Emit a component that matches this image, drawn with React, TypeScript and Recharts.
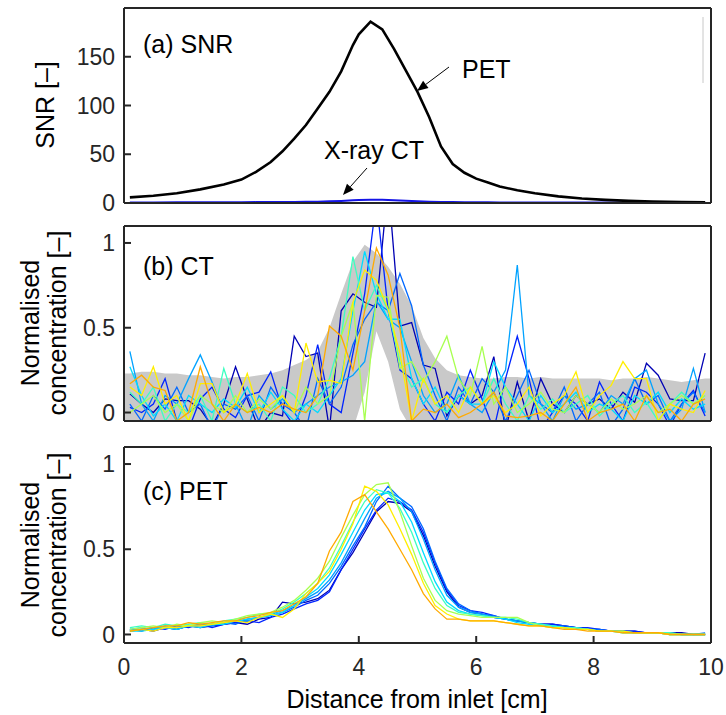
import React from "react";
import { ComposedChart, LineChart, Line, Area, XAxis, YAxis } from "recharts";

// ---- data ----
const X_TICKS = [0, 2, 4, 6, 8, 10];
const SNR_TICKS = [0, 50, 100, 150];
const NORM_TICKS = [0, 0.5, 1];

// (a) SNR
const SNR_X = [0.1, 0.5, 0.9, 1.3, 1.7, 2.0, 2.25, 2.5, 2.7, 2.9, 3.1, 3.3, 3.5, 3.7, 3.9, 4.0, 4.2, 4.4, 4.6, 4.8, 5.0, 5.2, 5.4, 5.6, 5.8, 6.0, 6.2, 6.4, 6.7, 7.0, 7.4, 7.8, 8.2, 8.6, 9.0, 9.5, 9.9];
const SNR_PET = [5.8, 7.5, 10, 14, 19, 24, 32, 42, 53, 66, 80, 97, 114, 135, 162, 173, 186, 178, 158, 136, 114, 88, 58, 40, 31, 25, 21, 17, 13, 10, 6.8, 4.6, 3.2, 2.2, 1.5, 1.0, 0.7];
const SNR_CT = [0.6, 0.6, 0.7, 0.7, 0.8, 0.8, 0.9, 0.9, 1.0, 1.1, 1.2, 1.4, 1.7, 2.1, 2.7, 3.0, 3.4, 3.3, 2.9, 2.4, 1.9, 1.4, 1.1, 0.9, 0.8, 0.7, 0.7, 0.6, 0.6, 0.6, 0.5, 0.5, 0.5, 0.5, 0.4, 0.4, 0.4];

// (b), (c) sample positions [cm]
const X_GRID = [0.1, 0.3, 0.5, 0.7, 0.9, 1.1, 1.3, 1.5, 1.7, 1.9, 2.1, 2.3, 2.5, 2.7, 2.9, 3.1, 3.3, 3.5, 3.7, 3.9, 4.1, 4.3, 4.5, 4.7, 4.9, 5.1, 5.3, 5.5, 5.7, 5.9, 6.1, 6.3, 6.5, 6.7, 6.9, 7.1, 7.3, 7.5, 7.7, 7.9, 8.1, 8.3, 8.5, 8.7, 8.9, 9.1, 9.3, 9.5, 9.7, 9.9];

// grey envelope in (b)
const BAND_HI = [0.23, 0.24, 0.24, 0.23, 0.23, 0.22, 0.22, 0.21, 0.2, 0.21, 0.21, 0.22, 0.23, 0.25, 0.28, 0.31, 0.36, 0.5, 0.7, 0.89, 0.99, 0.94, 0.86, 0.76, 0.63, 0.44, 0.32, 0.25, 0.22, 0.21, 0.2, 0.2, 0.21, 0.21, 0.2, 0.21, 0.2, 0.2, 0.2, 0.2, 0.2, 0.19, 0.2, 0.2, 0.21, 0.2, 0.19, 0.18, 0.19, 0.2];
const BAND_LO = [-0.1, -0.1, -0.1, -0.1, -0.1, -0.1, -0.1, -0.1, -0.1, -0.1, -0.1, -0.1, -0.1, -0.1, -0.1, -0.1, -0.1, -0.1, -0.1, -0.1, 0.12, 0.48, 0.3, 0.02, -0.1, -0.1, -0.1, -0.1, -0.1, -0.1, -0.1, -0.1, -0.1, -0.1, -0.1, -0.1, -0.1, -0.1, -0.1, -0.1, -0.1, -0.1, -0.1, -0.1, -0.1, -0.1, -0.1, -0.1, -0.1, -0.1];

const CT_1 = [0.11, 0.05, 0.0, 0.08, 0.07, 0.07, 0.02, -0.08, 0.05, 0.27, 0.08, -0.1, 0.0, -0.02, 0.45, 0.33, 0.35, -0.1, 0.6, 0.7, 0.65, 0.62, 1.35, 0.51, 0.53, 0.28, 0.26, -0.02, 0.1, 0.05, 0.1, 0.33, -0.1, 0.18, -0.05, 0.2, 0.05, 0.0, 0.1, 0.05, 0.08, 0.02, 0.12, 0.06, 0.29, 0.22, 0.08, 0.07, 0.07, 0.35];
const CT_2 = [0.03, 0.0, 0.05, 0.2, -0.05, -0.1, 0.08, 0.15, 0.02, -0.03, 0.1, 0.12, 0.24, 0.02, -0.08, 0.1, 0.4, 0.05, 0.0, 0.35, 0.7, 1.25, 0.6, 0.25, 0.2, 0.05, -0.05, 0.12, 0.05, 0.25, 0.08, -0.1, 0.2, 0.45, 0.2, -0.1, 0.0, 0.1, 0.05, -0.05, 0.18, 0.05, -0.05, 0.15, 0.12, 0.05, -0.08, 0.05, 0.13, -0.02];
const CT_3 = [0.05, -0.05, 0.1, 0.02, 0.15, 0.0, 0.05, -0.1, 0.05, 0.02, 0.1, -0.05, 0.15, 0.05, 0.0, -0.1, 0.2, 0.05, 0.15, 0.4, 0.55, 0.65, 0.6, 0.82, 0.63, 0.28, 0.1, -0.05, 0.15, 0.05, 0.2, 0.12, -0.05, 0.1, 0.25, 0.05, 0.0, 0.15, -0.05, 0.05, 0.12, -0.08, 0.02, 0.2, 0.05, 0.1, -0.05, 0.05, 0.12, 0.0];
const CT_4 = [0.36, 0.05, -0.05, 0.1, 0.05, 0.2, 0.34, 0.18, 0.0, 0.05, -0.1, 0.1, 0.02, 0.08, 0.0, 0.05, 0.1, 0.15, 0.18, 0.22, 0.3, 0.66, 0.55, 0.5, 0.3, 0.1, 0.0, 0.05, 0.22, 0.05, 0.0, 0.12, 0.25, 0.87, 0.1, 0.05, -0.05, 0.1, 0.02, 0.05, 0.0, 0.1, 0.05, 0.2, 0.25, 0.05, -0.05, 0.02, 0.26, 0.0];
const CT_5 = [0.27, 0.1, -0.02, 0.05, -0.05, 0.1, 0.05, 0.0, 0.08, 0.03, 0.15, 0.0, 0.12, 0.02, -0.05, 0.05, 0.0, 0.1, 0.2, 0.6, 0.95, 0.7, 0.55, 0.55, 0.2, 0.05, 0.15, 0.0, 0.1, 0.05, 0.05, 0.3, 0.15, 0.05, -0.05, 0.1, 0.0, 0.05, 0.12, 0.0, 0.05, 0.02, -0.05, 0.1, 0.05, 0.12, 0.0, 0.08, 0.02, 0.05];
const CT_6 = [0.12, 0.05, 0.15, -0.05, 0.05, 0.0, 0.1, -0.05, 0.26, 0.05, 0.0, 0.05, -0.05, 0.15, 0.1, 0.0, 0.05, 0.2, 0.45, 0.92, 0.6, 0.75, 0.6, 0.3, 0.15, 0.2, 0.05, 0.0, 0.1, 0.15, 0.05, 0.2, 0.05, -0.05, 0.1, 0.02, 0.08, 0.0, 0.05, 0.1, -0.02, 0.05, 0.1, 0.0, 0.06, -0.05, 0.05, 0.12, 0.05, 0.1];
const CT_7 = [0.0, 0.05, 0.1, 0.0, 0.05, -0.05, 0.1, 0.05, 0.0, 0.1, 0.0, 0.08, 0.02, 0.1, 0.0, 0.15, 0.05, 0.1, 0.45, 0.65, -0.05, 0.69, 0.68, 0.26, 0.3, 0.18, 0.3, 0.45, 0.2, 0.1, 0.39, 0.05, 0.15, 0.0, 0.05, 0.12, 0.02, 0.0, 0.1, 0.05, 0.0, 0.08, 0.02, 0.05, 0.1, 0.0, 0.05, 0.1, 0.05, 0.1];
const CT_8 = [0.15, 0.1, 0.27, 0.05, 0.1, -0.05, 0.17, 0.17, 0.0, 0.05, 0.23, 0.0, 0.05, 0.1, 0.0, 0.41, 0.18, 0.19, 0.17, 0.65, 0.84, 0.78, 0.61, 0.35, -0.05, 0.2, 0.05, 0.1, 0.0, 0.15, 0.05, 0.1, 0.0, 0.05, 0.15, -0.02, 0.05, 0.1, 0.24, 0.0, 0.1, 0.16, 0.3, 0.2, 0.2, -0.05, 0.05, 0.02, 0.0, 0.13];
const CT_9 = [0.17, 0.22, 0.15, 0.13, -0.05, 0.0, 0.27, 0.05, -0.05, 0.05, 0.0, 0.03, 0.0, 0.05, 0.02, 0.0, 0.1, 0.51, 0.45, 0.25, 0.6, 0.97, 0.81, 0.5, -0.05, 0.02, 0.0, 0.05, -0.03, 0.0, 0.05, 0.12, -0.02, -0.03, -0.02, 0.0, -0.05, 0.05, 0.15, -0.05, 0.0, 0.02, 0.05, -0.05, 0.1, 0.0, 0.02, -0.05, 0.05, 0.08];

const PET_1 = [0.02, 0.03, 0.02, 0.04, 0.03, 0.05, 0.04, 0.05, 0.06, 0.07, 0.06, 0.09, 0.1, 0.19, 0.18, 0.19, 0.21, 0.26, 0.38, 0.48, 0.6, 0.72, 0.78, 0.77, 0.72, 0.58, 0.4, 0.25, 0.16, 0.13, 0.12, 0.1, 0.09, 0.08, 0.07, 0.06, 0.06, 0.05, 0.04, 0.03, 0.03, 0.02, 0.02, 0.02, 0.01, 0.01, 0.01, 0.01, 0.0, 0.0];
const PET_2 = [0.03, 0.02, 0.04, 0.03, 0.05, 0.04, 0.06, 0.04, 0.06, 0.07, 0.08, 0.07, 0.1, 0.12, 0.15, 0.18, 0.2, 0.25, 0.38, 0.5, 0.62, 0.73, 0.8, 0.78, 0.73, 0.6, 0.42, 0.26, 0.17, 0.14, 0.13, 0.11, 0.09, 0.08, 0.07, 0.06, 0.06, 0.05, 0.04, 0.04, 0.03, 0.02, 0.02, 0.02, 0.01, 0.01, 0.01, 0.0, 0.0, 0.0];
const PET_3 = [0.02, 0.03, 0.04, 0.04, 0.03, 0.05, 0.05, 0.06, 0.07, 0.06, 0.09, 0.1, 0.11, 0.13, 0.16, 0.2, 0.23, 0.3, 0.4, 0.52, 0.63, 0.78, 0.87, 0.8, 0.75, 0.62, 0.43, 0.27, 0.18, 0.14, 0.12, 0.11, 0.09, 0.08, 0.07, 0.06, 0.05, 0.05, 0.04, 0.03, 0.03, 0.02, 0.02, 0.01, 0.01, 0.01, 0.01, 0.0, 0.0, 0.01];
const PET_4 = [0.03, 0.04, 0.03, 0.05, 0.04, 0.05, 0.06, 0.05, 0.07, 0.08, 0.08, 0.1, 0.12, 0.14, 0.17, 0.21, 0.25, 0.32, 0.42, 0.55, 0.68, 0.8, 0.84, 0.8, 0.72, 0.56, 0.38, 0.23, 0.16, 0.13, 0.12, 0.1, 0.09, 0.08, 0.07, 0.06, 0.05, 0.04, 0.04, 0.03, 0.02, 0.02, 0.02, 0.01, 0.01, 0.01, 0.0, 0.0, 0.0, 0.0];
const PET_5 = [0.02, 0.02, 0.03, 0.04, 0.03, 0.05, 0.04, 0.06, 0.06, 0.08, 0.09, 0.1, 0.11, 0.13, 0.17, 0.22, 0.27, 0.35, 0.47, 0.6, 0.73, 0.82, 0.83, 0.78, 0.66, 0.48, 0.31, 0.19, 0.14, 0.12, 0.11, 0.1, 0.09, 0.07, 0.06, 0.05, 0.05, 0.04, 0.03, 0.03, 0.02, 0.02, 0.01, 0.01, 0.01, 0.01, 0.0, 0.0, 0.0, 0.0];
const PET_6 = [0.04, 0.05, 0.04, 0.06, 0.05, 0.06, 0.07, 0.06, 0.08, 0.09, 0.1, 0.12, 0.12, 0.15, 0.19, 0.24, 0.3, 0.39, 0.52, 0.66, 0.78, 0.85, 0.83, 0.74, 0.6, 0.42, 0.27, 0.17, 0.13, 0.12, 0.11, 0.1, 0.1, 0.09, 0.07, 0.06, 0.05, 0.04, 0.04, 0.03, 0.02, 0.02, 0.02, 0.01, 0.01, 0.01, 0.01, 0.0, 0.0, 0.0];
const PET_7 = [0.03, 0.04, 0.05, 0.04, 0.06, 0.05, 0.07, 0.08, 0.07, 0.09, 0.11, 0.12, 0.13, 0.16, 0.2, 0.26, 0.33, 0.43, 0.57, 0.7, 0.82, 0.88, 0.89, 0.72, 0.52, 0.33, 0.2, 0.14, 0.12, 0.11, 0.1, 0.1, 0.1, 0.1, 0.07, 0.05, 0.04, 0.04, 0.03, 0.03, 0.02, 0.02, 0.01, 0.01, 0.01, 0.01, 0.0, 0.0, 0.0, 0.0];
const PET_8 = [0.02, 0.03, 0.02, 0.04, 0.04, 0.05, 0.05, 0.06, 0.07, 0.08, 0.07, 0.1, 0.12, 0.1, 0.15, 0.24, 0.3, 0.37, 0.5, 0.65, 0.87, 0.84, 0.76, 0.62, 0.47, 0.3, 0.17, 0.12, 0.09, 0.08, 0.08, 0.08, 0.07, 0.06, 0.05, 0.05, 0.04, 0.04, 0.03, 0.03, 0.02, 0.02, 0.02, 0.01, 0.01, 0.01, 0.0, 0.0, 0.0, 0.0];
const PET_9 = [0.02, 0.03, 0.04, 0.05, 0.05, 0.07, 0.06, 0.07, 0.08, 0.08, 0.1, 0.11, 0.13, 0.14, 0.18, 0.22, 0.3, 0.49, 0.6, 0.78, 0.82, 0.72, 0.62, 0.5, 0.38, 0.24, 0.15, 0.09, 0.09, 0.08, 0.08, 0.08, 0.07, 0.06, 0.05, 0.05, 0.04, 0.03, 0.03, 0.02, 0.02, 0.02, 0.01, 0.01, 0.01, 0.01, 0.0, 0.0, 0.0, 0.0];

const LINE_COLORS = ["#0000b4", "#0024ff", "#0068ff", "#00a2ff", "#00dcff", "#3cffc0", "#a8ff50", "#ffee00", "#ffaa00"];
const CT_SERIES = [CT_1, CT_2, CT_3, CT_4, CT_5, CT_6, CT_7, CT_8, CT_9];
const PET_SERIES = [PET_1, PET_2, PET_3, PET_4, PET_5, PET_6, PET_7, PET_8, PET_9];

// ---- build rows for recharts ----
const snrData = SNR_X.map((x, i) => ({ x, pet: SNR_PET[i], ct: SNR_CT[i] }));

const ctData = [
  { x: 0, band: [BAND_LO[0], BAND_HI[0]] },
  ...X_GRID.map((x, i) => {
    const row: any = { x, band: [BAND_LO[i], BAND_HI[i]] };
    CT_SERIES.forEach((s, k) => (row["s" + k] = s[i]));
    return row;
  }),
  { x: 10, band: [BAND_LO[BAND_LO.length - 1], BAND_HI[BAND_HI.length - 1]] },
];

const petData = X_GRID.map((x, i) => {
  const row: any = { x };
  PET_SERIES.forEach((s, k) => (row["s" + k] = s[i]));
  return row;
});

// ---- styling ----
const INK = "#262626";
const FONT = "'Liberation Sans', Arial, Helvetica, sans-serif";
const frameLine = { stroke: INK, strokeWidth: 2 };
const tickFont = { fill: INK, fontSize: 23, fontFamily: FONT };

// axis boxes: bottom 30 tall, top 10 tall, left 60 wide, right 10 wide
const AX_B = 30;
const AX_T = 10;
const AX_L = 60;
const AX_R = 10;

// box with inward ticks on all four sides (matlab style)
function frameAxes(yDomain: [number, number], yTicks: number[], xLabels: boolean) {
  return [
    <XAxis key="xb" type="number" dataKey="x" domain={[0, 10]} ticks={X_TICKS} interval={0}
      allowDataOverflow height={AX_B} axisLine={frameLine} tickLine={frameLine}
      tickSize={-7} tickMargin={23} tick={xLabels ? tickFont : false} />,
    <XAxis key="xt" xAxisId="t" orientation="top" type="number" dataKey="x" domain={[0, 10]}
      ticks={X_TICKS} interval={0} allowDataOverflow height={AX_T} axisLine={frameLine}
      tickLine={frameLine} tickSize={-7} tick={false} />,
    <YAxis key="yl" type="number" domain={yDomain} ticks={yTicks} interval={0} allowDataOverflow
      width={AX_L} axisLine={frameLine} tickLine={frameLine} tickSize={-7} tickMargin={16} tick={tickFont} />,
    <YAxis key="yr" yAxisId="r" orientation="right" type="number" domain={yDomain} ticks={yTicks}
      interval={0} allowDataOverflow width={AX_R} axisLine={frameLine} tickLine={frameLine}
      tickSize={-7} tick={false} />,
  ];
}

// plot box in page pixels -> chart margins
const PLOT_L = 124;
const PLOT_R = 711;
function margins(chartTop: number, chartH: number, plotTop: number, plotBottom: number) {
  return {
    top: plotTop - chartTop - AX_T,
    bottom: chartTop + chartH - plotBottom - AX_B,
    left: PLOT_L - AX_L,
    right: 726 - PLOT_R - AX_R,
  };
}

function Arrow({ x1, y1, x2, y2 }: { x1: number; y1: number; x2: number; y2: number }) {
  const dx = x2 - x1;
  const dy = y2 - y1;
  const len = Math.sqrt(dx * dx + dy * dy);
  const ux = dx / len;
  const uy = dy / len;
  const head = 11;
  const half = 4.5;
  const bx = x2 - ux * head;
  const by = y2 - uy * head;
  const pts = `${x2},${y2} ${bx - uy * half},${by + ux * half} ${bx + uy * half},${by - ux * half}`;
  return (
    <g>
      <line x1={x1} y1={y1} x2={bx} y2={by} stroke="#000" strokeWidth={1} />
      <polygon points={pts} fill="#000" />
    </g>
  );
}

const textStyle = { fontFamily: FONT, fontSize: 25, fill: "#000" };

export default function App() {
  return (
    <div style={{ position: "absolute", left: 0, top: 0, width: 726, height: 715, background: "#fff" }}>
      {/* (a) SNR */}
      <div style={{ position: "absolute", left: 0, top: 0 }}>
        <LineChart width={726} height={215} data={snrData} margin={margins(0, 215, 8, 203)}>
          {frameAxes([0, 200], SNR_TICKS, false)}
          <Line type="linear" dataKey="ct" stroke="#1414e6" strokeWidth={2} dot={false} activeDot={false} isAnimationActive={false} />
          <Line type="linear" dataKey="pet" stroke="#000" strokeWidth={2.6} dot={false} activeDot={false} isAnimationActive={false} />
        </LineChart>
      </div>

      {/* (b) CT */}
      <div style={{ position: "absolute", left: 0, top: 215 }}>
        <ComposedChart width={726} height={215} data={ctData} margin={margins(215, 215, 226, 421)}>
          {frameAxes([-0.05, 1.1], NORM_TICKS, false)}
          <Area type="linear" dataKey="band" stroke="none" fill="#c9c9c9" fillOpacity={1} dot={false} activeDot={false} isAnimationActive={false} />
          {CT_SERIES.map((_, k) => (
            <Line key={k} type="linear" dataKey={"s" + k} stroke={LINE_COLORS[k]} strokeWidth={1.3}
              dot={false} activeDot={false} isAnimationActive={false} />
          ))}
        </ComposedChart>
      </div>

      {/* (c) PET */}
      <div style={{ position: "absolute", left: 0, top: 430 }}>
        <LineChart width={726} height={285} data={petData} margin={margins(430, 285, 447, 643)}>
          {frameAxes([-0.05, 1.1], NORM_TICKS, true)}
          {PET_SERIES.map((_, k) => (
            <Line key={k} type="linear" dataKey={"s" + k} stroke={LINE_COLORS[k]} strokeWidth={1.3}
              dot={false} activeDot={false} isAnimationActive={false} />
          ))}
        </LineChart>
      </div>

      {/* labels and annotations */}
      <svg width={726} height={715} style={{ position: "absolute", left: 0, top: 0, pointerEvents: "none" }}>
        <text x={143} y={44} dominantBaseline="central" style={textStyle}>(a) SNR</text>
        <text x={143} y={266} dominantBaseline="central" style={textStyle}>(b) CT</text>
        <text x={143} y={491} dominantBaseline="central" style={textStyle}>(c) PET</text>

        <text x={462} y={69} dominantBaseline="central" style={textStyle}>PET</text>
        <Arrow x1={449} y1={67} x2={417} y2={91} />
        <text x={324} y={150} dominantBaseline="central" style={textStyle}>X-ray CT</text>
        <Arrow x1={367} y1={168} x2={343} y2={195} />
        <line x1={703} y1={17} x2={703} y2={83} stroke="#c8c8c8" strokeWidth={1} />

        <text transform="rotate(-90 45 105)" x={45} y={105} textAnchor="middle" dominantBaseline="central" style={textStyle}>SNR [–]</text>
        <text transform="rotate(-90 30 323)" x={30} y={323} textAnchor="middle" dominantBaseline="central" style={textStyle}>Normalised</text>
        <text transform="rotate(-90 57 323)" x={57} y={323} textAnchor="middle" dominantBaseline="central" style={textStyle}>concentration [–]</text>
        <text transform="rotate(-90 30 545)" x={30} y={545} textAnchor="middle" dominantBaseline="central" style={textStyle}>Normalised</text>
        <text transform="rotate(-90 57 545)" x={57} y={545} textAnchor="middle" dominantBaseline="central" style={textStyle}>concentration [–]</text>

        <text x={417} y={699} textAnchor="middle" dominantBaseline="central" style={textStyle}>Distance from inlet [cm]</text>
      </svg>
    </div>
  );
}
